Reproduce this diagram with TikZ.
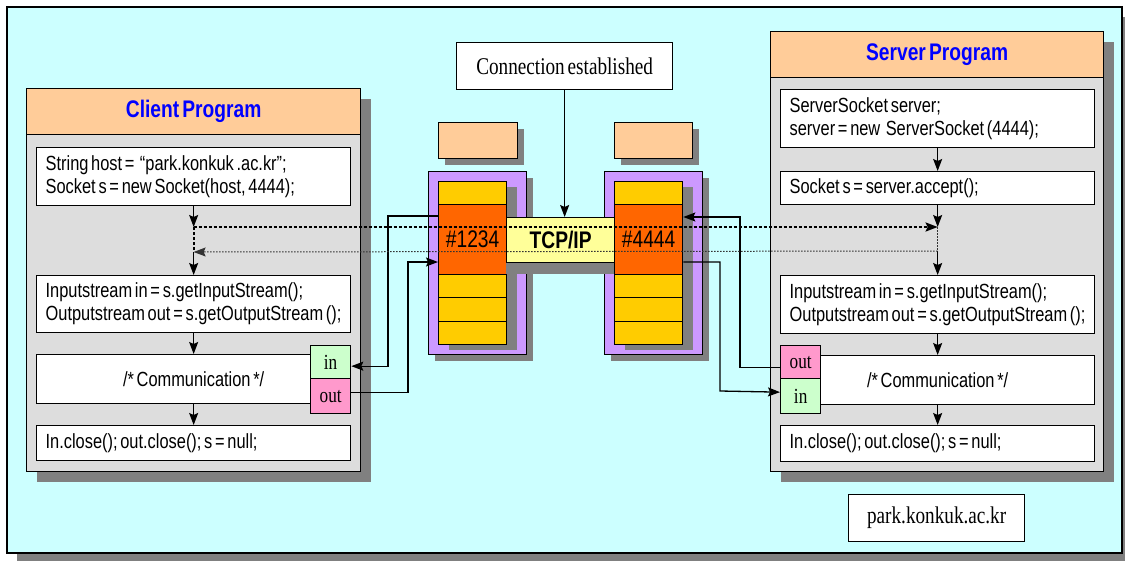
\documentclass[tikz,border=0pt]{standalone}
\usepackage{fontspec}
\setmainfont{Liberation Serif}[FakeStretch=0.8, WordSpace=0.6]
\newfontfamily\progfont{Liberation Sans}[FakeStretch=0.8, WordSpace=0.6]
\usetikzlibrary{arrows.meta,shadows}

\definecolor{bgcyan}{HTML}{CCFFFF}
\definecolor{panelgray}{HTML}{DDDDDD}
\definecolor{shadowgray}{HTML}{808080}
\definecolor{peach}{HTML}{FFCC99}
\definecolor{lilac}{HTML}{CC99FF}
\definecolor{portyellow}{HTML}{FFCC00}
\definecolor{portorange}{HTML}{FF6600}
\definecolor{tcpyellow}{HTML}{FFFF99}
\definecolor{ingreen}{HTML}{CCFFCC}
\definecolor{outpink}{HTML}{FF99CC}
\definecolor{titleblue}{HTML}{0000FF}

\newcommand{\codefnt}{\progfont\fontsize{20.5}{23}\selectfont}
\newcommand{\titlefnt}{\progfont\bfseries\fontsize{24}{28}\selectfont}
\newcommand{\notefnt}{\fontsize{24}{28}\selectfont}
\newcommand{\portfnt}{\fontsize{21.5}{24}\selectfont}
\newcommand{\codelines}[1]{\parbox{296pt}{#1}}

\tikzset{
  box/.style={draw, line width=1.3pt, anchor=north west, inner sep=0pt},
  shad/.style={drop shadow={shadow xshift=#1, shadow yshift=-#1, fill=shadowgray, opacity=1}},
  codebox/.style={box, fill=white, minimum width=314pt, font=\codefnt, minimum height=#1},
  commbox/.style={box, fill=white, minimum width=314pt, minimum height=49pt, font=\codefnt},
  portbox/.style={box, minimum width=40pt, font=\portfnt},
  cell/.style={box, fill=portyellow, minimum width=68pt},
  flow/.style={line width=1.3pt, -{Stealth[length=12pt,width=9pt,inset=2pt]}},
  dotthick/.style={line width=2.2pt, dash pattern=on 3pt off 2pt},
  dotthin/.style={line width=1pt, dash pattern=on 1.5pt off 1.5pt, black!80},
}

\begin{document}
\begin{tikzpicture}[x=1pt,y=-1pt]
  \useasboundingbox (0,0) rectangle (1125,560);
  % --- background sheet
  \node[box, line width=1.8pt, fill=bgcyan, minimum width=1115pt, minimum height=546pt, shad=10pt] (frame) at (6,6) {};

  % --- client side
  \node[box, fill=panelgray, minimum width=334pt, minimum height=383pt, shad=10pt] (client) at (26,88) {};
  \node[box, fill=peach, minimum width=334pt, minimum height=46pt, font=\titlefnt, text=titleblue] (chead) at (26,88) {Client Program};
  \node[codebox=58pt] (cdef) at (36,147) {\codelines{String host = ~“park.konkuk .ac.kr”;\\Socket s = new Socket(host, 4444);}};
  \node[codebox=57pt] (cstream) at (36,275) {\codelines{Inputstream in = s.getInputStream();\\Outputstream out = s.getOutputStream ();}};
  \node[commbox] (ccomm) at (36,354) {/* Communication */};
  \node[portbox, fill=ingreen, minimum height=33pt] (cin) at (310,345) {in};
  \node[portbox, fill=outpink, minimum height=35pt] (cout) at (310,378) {out};
  \node[codebox=35pt] (cclose) at (36,425) {\codelines{In.close(); out.close(); s = null;}};

  % --- server side
  \node[box, fill=panelgray, minimum width=333pt, minimum height=440pt, shad=10pt] (server) at (770,31) {};
  \node[box, fill=peach, minimum width=333pt, minimum height=46pt, font=\titlefnt, text=titleblue] (shead) at (770,31) {Server Program};
  \node[codebox=58pt] (sdef) at (780,89) {\codelines{ServerSocket server;\\server = new~ ServerSocket (4444);}};
  \node[codebox=33pt] (saccept) at (780,171) {\codelines{Socket s = server.accept();}};
  \node[codebox=58pt] (sstream) at (780,275) {\codelines{Inputstream in = s.getInputStream();\\Outputstream out = s.getOutputStream ();}};
  \node[commbox] (scomm) at (780,355) {/* Communication */};
  \node[portbox, fill=outpink, minimum height=33pt] (sout) at (780,345) {out};
  \node[portbox, fill=ingreen, minimum height=35pt] (sin) at (780,378) {in};
  \node[codebox=36pt] (sclose) at (780,425) {\codelines{In.close(); out.close(); s = null;}};

  % --- the two sockets in the middle
  \node[box, fill=white, minimum width=216pt, minimum height=47pt, font=\notefnt] (estab) at (456,42) {Connection established};
  \node[box, fill=peach, minimum width=79pt, minimum height=36pt, shad=6pt] (lname) at (438,122) {};
  \node[box, fill=peach, minimum width=78pt, minimum height=36pt, shad=6pt] (rname) at (614,122) {};
  \node[box, fill=lilac, minimum width=98pt, minimum height=183pt, shad=6pt] (lsock) at (428,171) {};
  \node[box, fill=lilac, minimum width=98pt, minimum height=183pt, shad=6pt] (rsock) at (604,171) {};
  \fill[shadowgray] (449,187) rectangle (517,350);
  \fill[shadowgray] (625,187) rectangle (693,350);
  \foreach \s/\x in {l/438, r/614} {
    \foreach \i/\y/\h in {1/181/23, 3/274/23, 4/297/24, 5/321/23}
      \node[cell, minimum height=\h pt] (\s cell\i) at (\x,\y) {};
  }
  \node[cell, fill=portorange, minimum height=70pt, font=\progfont\fontsize{24}{28}\selectfont] (lport) at (438,204) {\#1234};
  \node[cell, fill=portorange, minimum height=70pt, font=\progfont\fontsize{24}{28}\selectfont] (rport) at (614,204) {\#4444};
  \fill[shadowgray] (506,250) rectangle (614,274);
  \node[box, fill=tcpyellow, minimum width=108pt, minimum height=45pt, font=\titlefnt] (tcp) at (506,217) {TCP/IP};
  \node[box, fill=white, minimum width=176pt, minimum height=47pt, font=\notefnt] (host) at (848,494) {park.konkuk.ac.kr};

  % --- program flow
  \coordinate (cj1) at (cdef.south |- 0,227);
  \coordinate (cj2) at (cdef.south |- 0,252);
  \coordinate (sj1) at (sdef.south |- 0,227);
  \coordinate (sj2) at (sdef.south |- 0,251);
  \draw[flow] (cdef.south) -- (cj1);
  \draw[flow] (cj2) -- (cstream.north);
  \draw[flow] (cstream.south) -- (ccomm.north);
  \draw[flow] (ccomm.south) -- (cclose.north);
  \draw[flow] (sdef.south) -- (saccept.north);
  \draw[flow] (saccept.south) -- (sj1);
  \draw[flow] (sj2) -- (sstream.north);
  \draw[flow] (sstream.south) -- (scomm.north);
  \draw[flow] (scomm.south) -- (sclose.north);
  \draw[flow] (estab.south) -- (estab.south |- tcp.north);

  % --- streams through the ports
  \draw[flow] ([yshift=4pt]cout.east) -| (408,262) -- (lport.west |- 0,262);
  \draw[flow] (lport.west |- 0,216) -- (388,216) |- ([yshift=-4pt]cin.east);
  \draw[flow] ([yshift=-5pt]sout.west) -| (740,217) -- (rport.east |- 0,217);
  \draw[flow] (rport.east |- 0,262) -| (720,391) -- ([yshift=4pt]sin.west);

  % --- connect request and accept
  \draw[dotthick] (cj1) -- (cj2);
  \draw[dotthin] (sj1) -- (sj2);
  \draw[dotthick, flow, line width=2.2pt] (cj1) -- (sj1);
  \draw[dotthin, flow, line width=1pt] (sj2) -- (cj2);
\end{tikzpicture}
\end{document}
